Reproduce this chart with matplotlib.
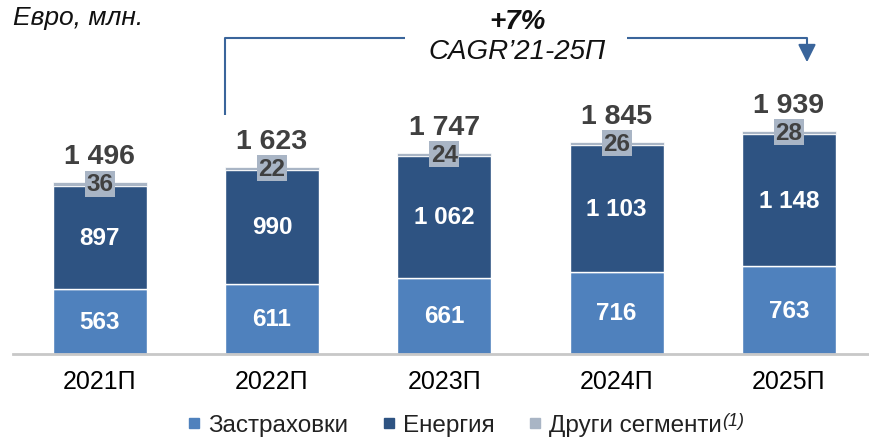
import matplotlib
matplotlib.use('Agg')
import matplotlib.pyplot as plt
import numpy as np
from matplotlib.lines import Line2D

plt.rcParams['font.family'] = 'Liberation Sans'

# data
years = ['2021П', '2022П', '2023П', '2024П', '2025П']
insurance = [563, 611, 661, 716, 763]
energy = [897, 990, 1062, 1103, 1148]
other = [36, 22, 24, 26, 28]
totals = [1496, 1623, 1747, 1845, 1939]
series_names = ['Застраховки', 'Енергия', 'Други сегменти']
footnote = '(1)'
cagr_value = '+7%'
cagr_label = 'CAGR’21-25П'
unit_label = 'Евро, млн.'

C_INS = '#4F81BD'
C_EN = '#2E5382'
C_OTH = '#A9B5C5'
C_TXT = '#404040'
C_LINE = '#3A659B'

def fmt(v):
    return f'{v:,}'.replace(',', ' ')

fig = plt.figure(figsize=(8.69, 4.39), dpi=100)
ax = fig.add_axes([13 / 869, 84 / 439, 855 / 869, 355 / 439])

x = np.arange(len(years))
w = 0.546
ins = np.array(insurance)
en = np.array(energy)
oth = np.array(other)

ax.bar(x, ins, w, color=C_INS, edgecolor='white', linewidth=1)
ax.bar(x, en, w, bottom=ins, color=C_EN, edgecolor='white', linewidth=1)
ax.bar(x, oth, w, bottom=ins + en, color=C_OTH, edgecolor='white', linewidth=0.5)

for i in range(len(years)):
    ax.text(x[i], ins[i] / 2, fmt(insurance[i]), ha='center', va='center',
            color='white', fontsize=17.5, fontweight='bold')
    ax.text(x[i], ins[i] + en[i] / 2, fmt(energy[i]), ha='center', va='center',
            color='white', fontsize=17.5, fontweight='bold')
    ax.text(x[i], ins[i] + en[i] + oth[i] / 2, fmt(other[i]), ha='center', va='center',
            color=C_TXT, fontsize=17.5, fontweight='bold',
            bbox=dict(boxstyle='square,pad=0.06', facecolor=C_OTH, edgecolor='none'))
    top = ins[i] + en[i] + oth[i]
    ax.annotate(fmt(totals[i]), (x[i], top), xytext=(0, 26), textcoords='offset pixels',
                ha='center', va='center', color=C_TXT, fontsize=20.5, fontweight='bold')

ax.set_xlim(-0.503, 4.459)
ax.set_ylim(0, 3084)
ax.set_xticks(x)
ax.set_xticklabels(years, fontsize=18)
ax.tick_params(axis='x', length=0, pad=11)
ax.set_yticks([])
for s in ['top', 'right', 'left']:
    ax.spines[s].set_visible(False)
ax.spines['bottom'].set_color('#C8C8C8')
ax.spines['bottom'].set_linewidth(2)

# CAGR bracket
y_top = 2745
x_left = x[1] - w / 2
x_right = x[4] + 0.105
ax.plot([x_left, x_left, 1.772], [2076, y_top, y_top], color=C_LINE, lw=1.5,
        solid_capstyle='butt', clip_on=False)
ax.plot([3.06, x_right, x_right], [y_top, y_top, y_top - 80], color=C_LINE, lw=1.5,
        solid_capstyle='butt', clip_on=False)
ax.annotate('', xy=(x_right, y_top - 210), xytext=(x_right, y_top - 60),
            arrowprops=dict(arrowstyle='-|>,head_length=0.6,head_width=0.3',
                            mutation_scale=18, color=C_LINE, lw=1.5,
                            shrinkA=0, shrinkB=0))
ax.text(2.422, 2893, cagr_value, ha='center', va='center', fontsize=20,
        fontweight='bold', fontstyle='italic', color='#111111')
ax.text(2.422, 2632, cagr_label, ha='center', va='center', fontsize=20,
        fontstyle='italic', color='#111111')

fig.text(13 / 869, 1 - 18 / 439, unit_label, ha='left', va='center', fontsize=19,
         fontstyle='italic', color='#111111')

handles = [Line2D([], [], marker='s', linestyle='', markersize=6.5, color=c)
           for c in [C_INS, C_EN, C_OTH]]
leg = fig.legend(handles, series_names, loc='center', bbox_to_anchor=(455 / 869, 13 / 439),
                 ncol=3, frameon=False, fontsize=17.5, handlelength=0.5, handletextpad=0.3,
                 columnspacing=1.45, borderpad=0, borderaxespad=0)
for t in leg.get_texts():
    t.set_color('#222222')

# footnote marker as superscript next to the last legend entry
fig.canvas.draw()
bb = leg.get_texts()[2].get_window_extent().transformed(fig.transFigure.inverted())
fig.text(bb.x1 + 1 / 869, bb.y1 + 2 / 439, footnote, ha='left', va='top', fontsize=13,
         fontstyle='italic', color='#222222')

fig.savefig('out.png', dpi=100)
